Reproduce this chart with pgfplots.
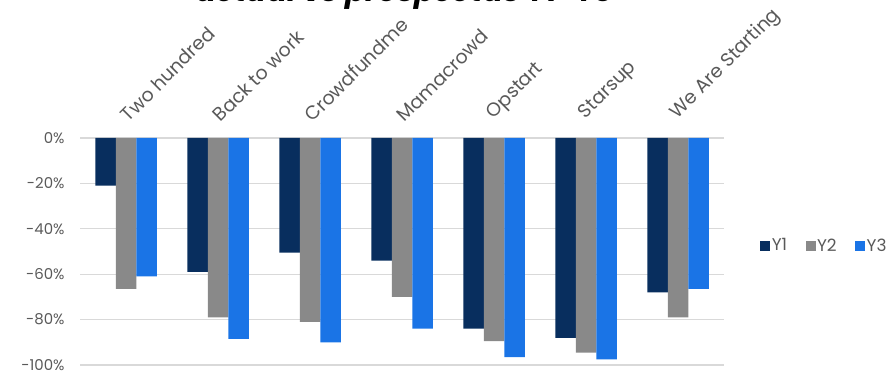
\documentclass[border=0pt]{standalone}
\usepackage{pgfplots}
\pgfplotsset{compat=1.18}
\usepackage{pgfplotstable}
\usepackage{fontspec}
\setmainfont{Poppins}
\definecolor{cY1}{HTML}{082E5E}
\definecolor{cY2}{HTML}{898989}
\definecolor{cY3}{HTML}{1A74E6}
\definecolor{txt}{HTML}{595959}
\definecolor{grd}{HTML}{D9D9D9}
\pgfplotstableread{
x y1 y2 y3
0 -21 -66.5 -61
1 -59 -79 -88.5
2 -50.5 -81 -90
3 -54 -70 -84
4 -84 -89.5 -96.5
5 -88 -94.5 -97.5
6 -68 -79 -66.5
}\datatable
\begin{document}
\begin{tikzpicture}[x=1bp,y=1bp]
\useasboundingbox (0,0) rectangle (893,370);
\node[anchor=base, font=\bfseries\itshape\fontsize{30}{34}\selectfont] at (405,369) {actual vs prospectus Y1-Y3};
\begin{axis}[
  at={(80bp,5bp)}, anchor=south west,
  scale only axis, width=644bp, height=227bp,
  ybar=0pt, bar width=20.5bp,
  xmin=-0.5, xmax=6.5, ymin=-100, ymax=0,
  axis line style={draw=none},
  xtick={0,...,6},
  xticklabels={Two hundred,Back to work,Crowdfundme,Mamacrowd,Opstart,Starsup,We Are Starting},
  xticklabel pos=upper,
  xticklabel style={xshift=3bp, yshift=10bp, rotate=45, anchor=south west, font=\fontsize{19}{21}\selectfont, text=txt},
  ytick={-100,-80,-60,-40,-20,0},
  yticklabels={-100\%,-80\%,-60\%,-40\%,-20\%,0\%},
  yticklabel style={font=\fontsize{15}{17}\selectfont, text=txt, xshift=-12bp},
  major tick length=0pt,
  ymajorgrids, grid style={grd, line width=1.2pt},
  legend style={at={(1.056,0.526)}, anchor=west, draw=none, fill=none, legend columns=3,
    font=\fontsize{17}{19}\selectfont, text=txt, inner sep=0pt,
    nodes={inner sep=1.5bp},
    /tikz/every even column/.append style={column sep=17bp},
    /tikz/every odd column/.append style={column sep=0bp}},
  legend image code/.code={\fill[#1] (0bp,-5bp) rectangle (10bp,5bp);},
]
\addplot[fill=cY1, draw=none] table[x=x,y=y1] {\datatable};
\addplot[fill=cY2, draw=none] table[x=x,y=y2] {\datatable};
\addplot[fill=cY3, draw=none] table[x=x,y=y3] {\datatable};
\legend{Y1,Y2,Y3}
\end{axis}
\end{tikzpicture}
\end{document}
